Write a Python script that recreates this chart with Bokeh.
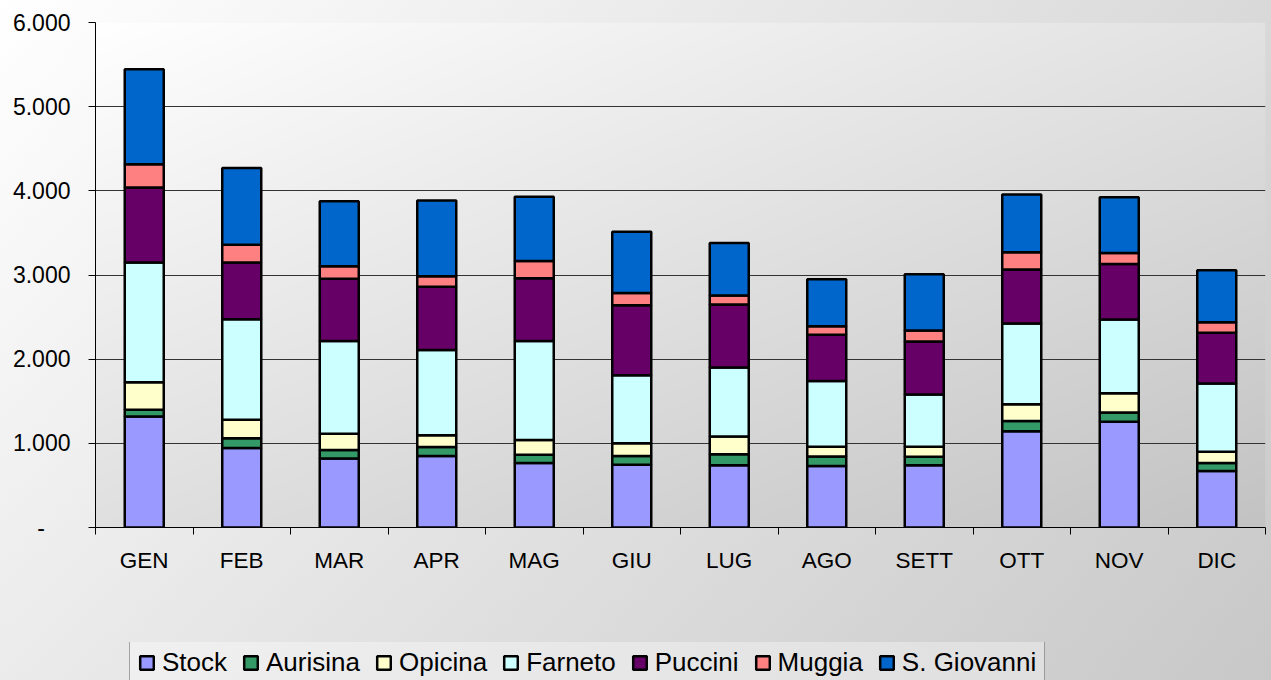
import numpy as np
from bokeh.plotting import figure
from bokeh.layouts import column
from bokeh.models import ColumnDataSource, Range1d, FixedTicker
from bokeh.embed import file_html
from bokeh.resources import INLINE

months = ["GEN", "FEB", "MAR", "APR", "MAG", "GIU", "LUG", "AGO", "SETT", "OTT", "NOV", "DIC"]
stock = [1320, 945, 820, 850, 765, 745, 740, 730, 740, 1145, 1255, 670]
aurisina = [80, 115, 100, 105, 100, 105, 130, 115, 100, 120, 110, 95]
opicina = [325, 220, 195, 140, 175, 150, 210, 115, 120, 200, 230, 135]
farneto = [1425, 1195, 1100, 1015, 1175, 810, 820, 780, 620, 960, 875, 810]
puccini = [890, 675, 740, 750, 745, 830, 750, 550, 630, 640, 660, 605]
muggia = [275, 210, 150, 125, 205, 145, 105, 100, 130, 205, 130, 125]
sgiovanni = [1130, 910, 770, 900, 765, 730, 625, 560, 670, 685, 665, 615]

series_names = ["Stock", "Aurisina", "Opicina", "Farneto", "Puccini", "Muggia", "S. Giovanni"]
series_keys = ["stock", "aurisina", "opicina", "farneto", "puccini", "muggia", "sgiovanni"]
colors = ["#9999FF", "#339966", "#FFFFCC", "#CCFFFF", "#660066", "#FF8080", "#0066CC"]
y_ticks = [0, 1000, 2000, 3000, 4000, 5000, 6000]
y_tick_labels = ["-\u00a0\u00a0\u00a0\u00a0", "1.000", "2.000", "3.000", "4.000", "5.000", "6.000"]

n = len(months)
xc = [i + 0.5 for i in range(n)]
src = ColumnDataSource(dict(x=xc, stock=stock, aurisina=aurisina, opicina=opicina,
                            farneto=farneto, puccini=puccini, muggia=muggia,
                            sgiovanni=sgiovanni))

FONT = "Liberation Sans"
W_TOT, H_TOT = 1271, 680
H_LEG = 44

p = figure(width=W_TOT, height=H_TOT - H_LEG, output_backend="svg", toolbar_location=None,
           x_range=Range1d(0, n), y_range=Range1d(0, 6000),
           min_border_left=95, min_border_top=22, min_border_bottom=H_TOT - H_LEG - 527,
           min_border_right=6)
p.border_fill_alpha = 0
p.background_fill_alpha = 0
p.outline_line_color = None

# plot-area gradient (styling only)
H, W = 200, 400
u = np.linspace(0, 1, W)[None, :]
v = 1 - np.linspace(0, 1, H)[:, None]
g = (255 - 29 * u - 31 * v).clip(0, 255).astype(np.uint32)
img = (255 << 24) | (g << 16) | (g << 8) | g
bg = p.image_rgba(image=[img.astype(np.uint32)], x=0, y=0, dw=n, dh=6000)
bg.level = "image"

bar_style = dict(width=0.4, color=colors, line_color="black", line_width=2.5)
p.vbar_stack(series_keys, x="x", source=src, **bar_style)

# grid
p.xgrid.grid_line_color = None
p.ygrid.ticker = FixedTicker(ticks=y_ticks)
p.ygrid.grid_line_color = "#333333"
p.ygrid.grid_line_width = 1

# x axis
xa = p.xaxis[0]
xa.ticker = FixedTicker(ticks=xc, minor_ticks=list(range(n + 1)))
xa.major_label_overrides = {x: m for x, m in zip(xc, months)}
xa.major_tick_line_color = None
xa.major_tick_out = 0
xa.major_tick_in = 0
xa.minor_tick_out = 7
xa.minor_tick_in = 0
xa.minor_tick_line_color = "black"
xa.axis_line_color = "black"
xa.major_label_text_font = FONT
xa.major_label_text_font_size = "22.5px"
xa.major_label_text_color = "black"
xa.major_label_standoff = 13

# y axis
ya = p.yaxis[0]
ya.ticker = FixedTicker(ticks=y_ticks, minor_ticks=[])
ya.major_label_overrides = {t: l for t, l in zip(y_ticks, y_tick_labels)}
ya.major_tick_out = 7
ya.major_tick_in = 0
ya.major_tick_line_color = "black"
ya.minor_tick_line_color = None
ya.axis_line_color = "black"
ya.major_label_text_font = FONT
ya.major_label_text_font_size = "23px"
ya.major_label_text_color = "black"
ya.major_label_standoff = 18

# legend strip: a small figure holding hidden copies of the renderers, so the
# legend box can run off the bottom edge like in the reference
q = figure(width=W_TOT, height=H_LEG, output_backend="svg", toolbar_location=None,
           x_axis_location=None, y_axis_location=None,
           x_range=Range1d(0, n), y_range=Range1d(0, 6000),
           min_border_left=95, min_border_top=6, min_border_bottom=0, min_border_right=6)
q.border_fill_alpha = 0
q.background_fill_alpha = 0
q.outline_line_color = None
q.grid.visible = False
hidden = q.vbar_stack(series_keys, x="x", source=src, legend_label=series_names, **bar_style)
for r in hidden:
    r.visible = False
lg = q.legend[0]
lg.click_policy = "none"
lg.inactive_fill_alpha = 0
lg.orientation = "horizontal"
lg.location = (34, -7)
lg.label_text_font = FONT
lg.label_text_font_size = "26px"
lg.label_text_color = "black"
lg.glyph_width = 17
lg.glyph_height = 17
lg.label_standoff = 7
lg.spacing = 15
lg.padding = 8
lg.margin = 0
lg.border_line_color = "#555555"
lg.border_line_width = 1.5
lg.background_fill_color = "white"
lg.background_fill_alpha = 0.35

layout = column(p, q, spacing=0)
layout.styles = {
    "background-image": "linear-gradient(to bottom, #ffffff, #ebebeb), linear-gradient(to right, #ffffff, #d9d9d9)",
    "background-blend-mode": "multiply",
}

open("out.html", "w").write(file_html(layout, INLINE))
